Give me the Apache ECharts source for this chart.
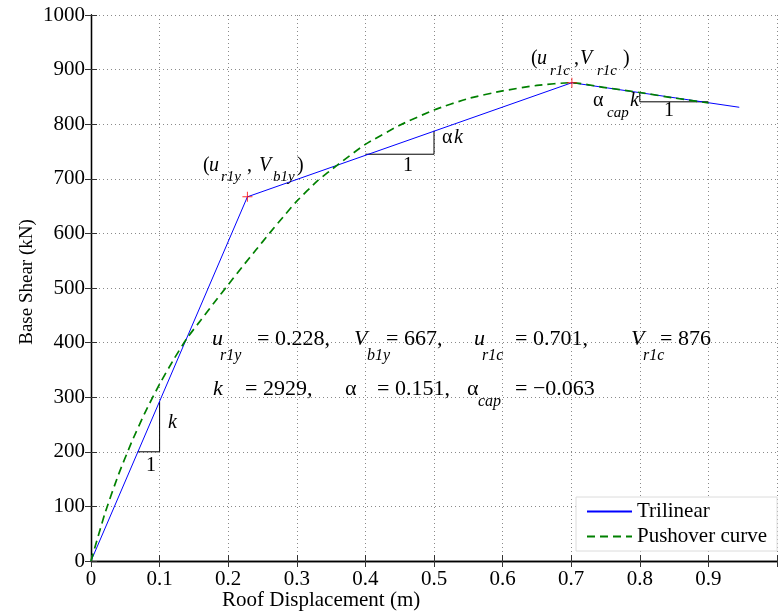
<!DOCTYPE html>
<html><head><meta charset="utf-8">
<script src="https://cdn.jsdelivr.net/npm/echarts@6/dist/echarts.min.js"></script>
<style>html,body{margin:0;padding:0;background:#fff}#c{width:780px;height:613px}</style>
</head><body><div id="c"></div>
<script>
// ---- data ----
const trilinearX = [0, 0.228, 0.701, 0.945];
const trilinearY = [0, 667, 876, 831];
const pushoverX = [0, 0.02, 0.04, 0.06, 0.08, 0.1, 0.12, 0.14, 0.16, 0.18, 0.2, 0.22, 0.24, 0.26, 0.28, 0.3, 0.33, 0.36, 0.4, 0.45, 0.5, 0.55, 0.6, 0.65, 0.7, 0.75, 0.8, 0.85, 0.9];
const pushoverY = [0, 86, 158, 220, 275, 324, 368, 408, 441, 474, 506, 538, 569, 600, 630, 659, 696, 726, 763, 798, 826, 847, 861, 871, 876, 867, 858, 848, 839];
const keyX = [0.228, 0.701];
const keyY = [667, 876];
const tri1X = [0.068, 0.1, 0.1];  const tri1Y = [200, 200, 293];
const tri2X = [0.4, 0.5, 0.5];    const tri2Y = [745, 745, 788];
const tri3X = [0.8, 0.8, 0.9];    const tri3Y = [858, 841, 841];
const xTickLabels = ['0','0.1','0.2','0.3','0.4','0.5','0.6','0.7','0.8','0.9',''];
const yTickLabels = ['0','100','200','300','400','500','600','700','800','900','1000'];
const legendNames = ['Trilinear', 'Pushover curve'];

const zip = (a, b) => a.map((v, i) => [v, b[i]]);
const FONT = 'Liberation Serif';

// annotation fragments: [text, left, baseline, fontSize, italic]
const notes = [
  ['(', 203, 173, 20, 0], ['u', 209, 173, 20, 1], ['r1y', 221, 182, 15, 1], [',', 247, 173, 20, 0],
  ['V', 259, 173, 20, 1], ['b1y', 273, 182, 15, 1], [')', 297, 173, 20, 0],
  ['(', 531, 66, 20, 0], ['u', 537, 66, 20, 1], ['r1c', 550, 76, 15, 1], [',', 574, 66, 20, 0],
  ['V', 580, 66, 20, 1], ['r1c', 597, 76, 15, 1], [')', 623, 66, 20, 0],
  ['α', 593, 108, 20, 0], ['cap', 607, 118, 15, 1], ['k', 630, 108, 20, 1],
  ['α', 442, 145, 20, 0], ['k', 454, 145, 20, 1],
  ['1', 403, 173, 20, 0], ['1', 664, 118, 20, 0], ['k', 168, 430, 20, 1], ['1', 146, 473, 20, 0],
  ['u', 212, 347, 22, 1], ['r1y', 220, 362, 16, 1], ['= 0.228,', 257, 347, 22, 0],
  ['V', 354, 347, 22, 1], ['b1y', 367, 362, 16, 1], ['= 667,', 386, 347, 22, 0],
  ['u', 474, 347, 22, 1], ['r1c', 482, 362, 16, 1], ['= 0.701,', 515, 347, 22, 0],
  ['V', 631, 347, 22, 1], ['r1c', 643, 362, 16, 1], ['= 876', 660, 347, 22, 0],
  ['k', 213, 397, 22, 1], ['= 2929,', 245, 397, 22, 0],
  ['α', 345, 397, 22, 0], ['= 0.151,', 377, 397, 22, 0],
  ['α', 467, 397, 22, 0], ['cap', 478, 408, 16, 1], ['= −0.063', 515, 397, 22, 0]
];

const chart = echarts.init(document.getElementById('c'), null, {renderer: 'canvas'});
const grid = {left: 91, right: -2, top: 15, bottom: 52};
const dotted = {show: true, lineStyle: {color: '#8a8a8a', type: [1, 3], width: 1}};
const axLine = {show: true, lineStyle: {color: '#000', width: 1.3}};
const tick = {show: true, inside: true, length: 6, lineStyle: {color: '#333', width: 1}};
const triSeries = (xs, ys) => ({type: 'line', data: zip(xs, ys), symbol: 'none', silent: true,
  lineStyle: {color: '#000', width: 1}, z: 1, xAxisIndex: 0, yAxisIndex: 0});

chart.setOption({
  animation: false,
  backgroundColor: '#fff',
  grid: grid,
  xAxis: [
    {type: 'value', min: 0, max: 1, interval: 0.1, position: 'bottom',
     axisLine: axLine, axisTick: tick, splitLine: dotted,
     axisLabel: {color: '#000', fontFamily: FONT, fontSize: 21, margin: 8,
       formatter: (v) => xTickLabels[Math.round(v * 10)]}},
    {type: 'value', min: 0, max: 1, interval: 0.1, position: 'top',
     axisLine: axLine, axisTick: tick, splitLine: {show: false}, axisLabel: {show: false}}
  ],
  yAxis: [
    {type: 'value', min: 0, max: 1000, interval: 100, position: 'left',
     axisLine: axLine, axisTick: tick, splitLine: dotted,
     axisLabel: {color: '#000', fontFamily: FONT, fontSize: 21, margin: 6,
       formatter: (v) => yTickLabels[Math.round(v / 100)]}},
    {type: 'value', min: 0, max: 1000, interval: 100, position: 'right',
     axisLine: axLine, axisTick: tick, splitLine: {show: false}, axisLabel: {show: false}}
  ],
  legend: {
    data: legendNames, orient: 'vertical', left: 576, top: 497,
    padding: [4, 10, 4, 10], itemGap: 4, itemWidth: 45, itemHeight: 14,
    backgroundColor: '#fff', borderColor: '#dcdcdc', borderWidth: 1,
    itemStyle: {opacity: 0},
    textStyle: {color: '#000', fontFamily: FONT, fontSize: 21}
  },
  series: [
    triSeries(tri1X, tri1Y), triSeries(tri2X, tri2Y), triSeries(tri3X, tri3Y),
    {name: legendNames[0], type: 'line', data: zip(trilinearX, trilinearY), symbol: 'none',
     lineStyle: {color: '#0000ff', width: 1}, itemStyle: {color: '#0000ff'}, z: 3},
    {name: legendNames[1], type: 'line', data: zip(pushoverX, pushoverY), symbol: 'none',
     smooth: 0.2,
     lineStyle: {color: '#008000', width: 1.7, type: [8, 5]}, itemStyle: {color: '#008000'}, z: 4},
    {type: 'scatter', data: zip(keyX, keyY), silent: true, z: 5,
     symbol: 'path://M-1,-10 L1,-10 L1,-1 L10,-1 L10,1 L1,1 L1,10 L-1,10 L-1,1 L-10,1 L-10,-1 L-1,-1 Z',
     symbolSize: 10, itemStyle: {color: '#ff0000'}}
  ],
  graphic: notes.map(n => ({
    type: 'text', left: n[1], top: n[2] - 0.86 * n[3], silent: true, z: 100,
    style: {text: n[0], font: (n[4] ? 'italic ' : '') + n[3] + 'px "' + FONT + '"', fill: '#000'}
  })).concat([{
    type: 'text', left: 222, top: 590, silent: true,
    style: {text: 'Roof Displacement (m)', font: '21px "' + FONT + '"', fill: '#000'}
  }, {
    type: 'text', x: 27, y: 282, rotation: Math.PI / 2, silent: true,
    style: {text: 'Base Shear (kN)', font: '19px "' + FONT + '"', fill: '#000',
            align: 'center', verticalAlign: 'middle'}
  }])
});
</script></body></html>
